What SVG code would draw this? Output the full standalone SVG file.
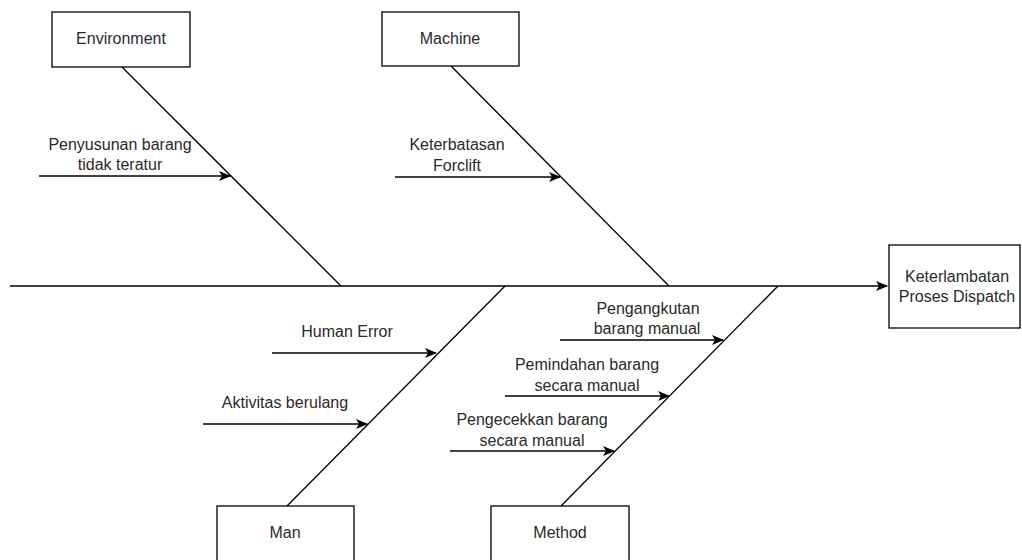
<svg xmlns="http://www.w3.org/2000/svg" width="1022" height="560" viewBox="0 0 1022 560">
<style>
.box{fill:#fff;stroke:#000;stroke-width:1.3}
.ln{fill:none;stroke:#000;stroke-width:1.3}
.ar{fill:none;stroke:#000;stroke-width:1.3;marker-end:url(#ah)}
text{font-family:"Liberation Sans",Arial,sans-serif;font-size:16px;fill:#2a2a2a;text-anchor:middle}
</style>
<defs>
<marker id="ah" markerWidth="14" markerHeight="12" refX="11" refY="5" orient="auto" markerUnits="userSpaceOnUse">
<path d="M0,0 L12,5 L0,10 L3,5 z" fill="#000"/>
</marker>
</defs>
<rect width="1022" height="560" fill="#fff"/>
<g id="connectors">
<line class="ar" x1="10" y1="286" x2="887" y2="286"/>
<line class="ln" x1="122" y1="67" x2="341" y2="286"/>
<line class="ln" x1="451" y1="66" x2="669" y2="286"/>
<line class="ln" x1="287" y1="506" x2="505" y2="286"/>
<line class="ln" x1="561" y1="506" x2="778" y2="286"/>
<line class="ar" x1="39" y1="176" x2="230" y2="176"/>
<line class="ar" x1="395" y1="177" x2="560" y2="177"/>
<line class="ar" x1="272" y1="353" x2="436" y2="353"/>
<line class="ar" x1="203" y1="424" x2="367" y2="424"/>
<line class="ar" x1="560" y1="340" x2="723" y2="340"/>
<line class="ar" x1="505" y1="396" x2="669" y2="396"/>
<line class="ar" x1="450" y1="451" x2="614" y2="451"/>
</g>
<g id="environment"><rect class="box" x="52" y="12" width="138" height="55"/><text x="121" y="44">Environment</text></g>
<g id="machine"><rect class="box" x="382" y="12" width="137" height="54"/><text x="450" y="44">Machine</text></g>
<g id="effect"><rect class="box" x="889" y="245" width="131" height="83"/><text x="957" y="282">Keterlambatan</text><text x="957" y="302">Proses Dispatch</text></g>
<g id="man"><rect class="box" x="217" y="506" width="137" height="56"/><text x="285" y="538">Man</text></g>
<g id="method"><rect class="box" x="491" y="506" width="138" height="56"/><text x="560" y="538">Method</text></g>
<g id="labels">
<text x="120" y="150">Penyusunan barang</text><text x="120" y="170">tidak teratur</text>
<text x="457" y="150">Keterbatasan</text><text x="457" y="171">Forclift</text>
<text x="347" y="337">Human Error</text>
<text x="285" y="408">Aktivitas berulang</text>
<text x="648" y="314">Pengangkutan</text><text x="647" y="334">barang manual</text>
<text x="587" y="370">Pemindahan barang</text><text x="587" y="391">secara manual</text>
<text x="532" y="425">Pengecekkan barang</text><text x="532" y="446">secara manual</text>
</g>
</svg>
